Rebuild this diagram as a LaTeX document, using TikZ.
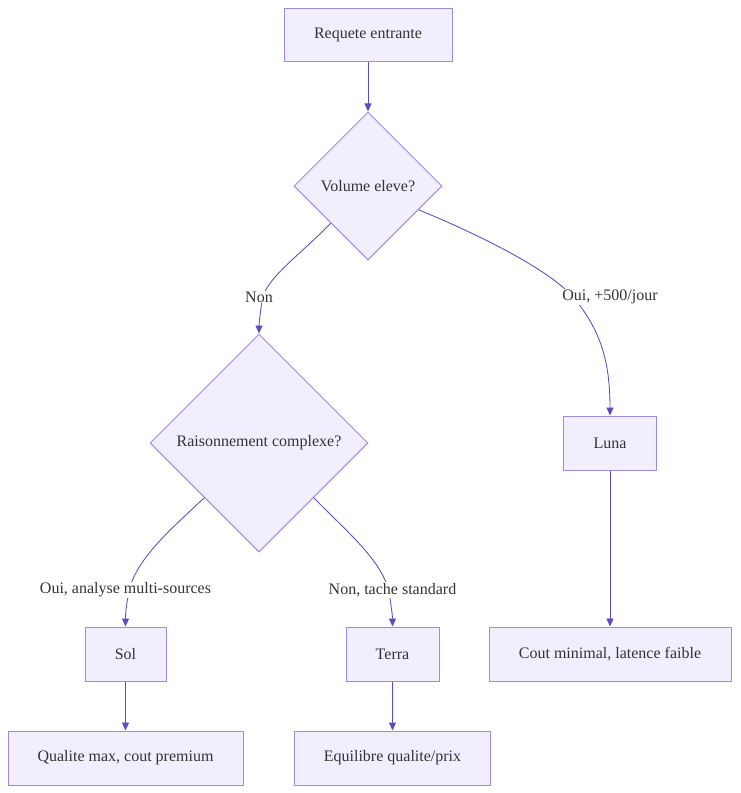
\documentclass[tikz,border=0pt]{standalone}
\usepackage{fontspec}
\setmainfont{Liberation Serif}
\usetikzlibrary{shapes.geometric,arrows.meta,calc}
\definecolor{nodefill}{HTML}{F2EEFD}
\definecolor{nodedraw}{HTML}{9E8BDD}
\definecolor{edgecol}{HTML}{5E4BC4}
\definecolor{txt}{HTML}{333333}
\begin{document}
\begin{tikzpicture}[x=1pt,y=-1pt,
  every node/.style={font=\fontsize{16}{19}\selectfont, text=txt},
  box/.style={draw=nodedraw, fill=nodefill, line width=1pt, rectangle, inner sep=0pt},
  dia/.style={draw=nodedraw, fill=nodefill, line width=1pt, diamond, aspect=1, inner sep=0pt},
  edge/.style={draw=edgecol, line width=0.85pt, -{Triangle[length=8pt,width=7pt]}},
  lbl/.style={fill=white, inner sep=1pt}]
\useasboundingbox (0,0) rectangle (740,793);
\fill[white] (0,0) rectangle (740,793);

\node[box, minimum width=168pt, minimum height=53pt] (start) at (368,34.5) {Requete entrante};
\node[dia, minimum width=148pt, minimum height=148pt] (vol) at (368,186) {Volume eleve?};
\node[dia, minimum width=218pt, minimum height=218pt] (rais) at (259,443) {Raisonnement complexe?};
\node[box, minimum width=93pt, minimum height=54pt] (luna) at (610,443) {Luna};
\node[box, minimum width=81pt, minimum height=54pt] (sol) at (125.5,654) {Sol};
\node[box, minimum width=93pt, minimum height=54pt] (terra) at (392.5,654) {Terra};
\node[box, minimum width=242pt, minimum height=54pt] (cout) at (610,654) {Cout minimal, latence faible};
\node[box, minimum width=235pt, minimum height=54pt] (qual) at (125.5,758) {Qualite max, cout premium};
\node[box, minimum width=196pt, minimum height=54pt] (equi) at (392.5,758) {Equilibre qualite/prix};

\coordinate (vyes) at ($(vol.east)!0.32!(vol.south)$);

\draw[edge] (start) -- (vol);
\draw[edge] (vol.south west) .. controls (300,255) and (266,278) .. (262,300)
   .. controls (260,315) and (259,324) .. (rais.north);
\draw[edge] (vyes) .. controls (480,235) and (550,270) .. (574,298)
   .. controls (600,330) and (610,360) .. (luna.north);
\draw[edge] (rais.south west) .. controls (170,530) and (135,560) .. (129,592)
   .. controls (126,605) and (125.5,615) .. (sol.north);
\draw[edge] (rais.south east) .. controls (345,530) and (382,560) .. (389,592)
   .. controls (391,605) and (392.5,615) .. (terra.north);
\draw[edge] (luna) -- (cout);
\draw[edge] (sol) -- (qual);
\draw[edge] (terra) -- (equi);

\node[lbl] (lnon) at (259,297) {Non};
\node[lbl] (loui) at (610,297) {Oui, +500/jour};
\node[lbl] (lmulti) at (125.5,590) {Oui, analyse multi-sources};
\node[lbl] (lstd) at (392.5,590) {Non, tache standard};
\end{tikzpicture}
\end{document}
